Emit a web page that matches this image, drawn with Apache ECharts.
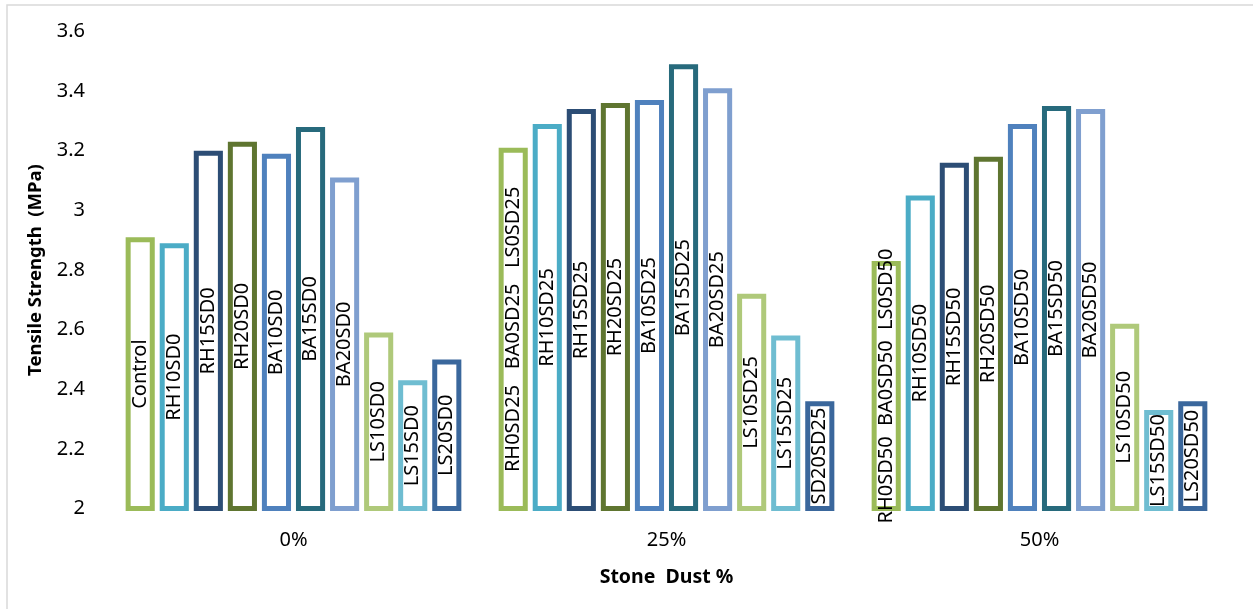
<!DOCTYPE html>
<html>
<head>
<meta charset="utf-8">
<title>Tensile Strength vs Stone Dust %</title>
<script src="https://cdn.jsdelivr.net/npm/echarts@6/dist/echarts.min.js"></script>
<style>
  html, body { margin: 0; padding: 0; background: #ffffff; }
  #chart { width: 1253px; height: 609px; }
</style>
</head>
<body>
<div id="chart"></div>
<script>
// Stone dust replacement levels (x categories)
const categories = ['0%', '25%', '50%'];

// Mix names shown inside each bar, one list per stone dust level
const names0  = ['Control', 'RH10SD0', 'RH15SD0', 'RH20SD0', 'BA10SD0', 'BA15SD0', 'BA20SD0', 'LS10SD0', 'LS15SD0', 'LS20SD0'];
const names25 = ['RH0SD25   BA0SD25   LS0SD25', 'RH10SD25', 'RH15SD25', 'RH20SD25', 'BA10SD25', 'BA15SD25', 'BA20SD25', 'LS10SD25', 'LS15SD25', 'SD20SD25'];
const names50 = ['RH0SD50  BA0SD50  LS0SD50', 'RH10SD50', 'RH15SD50', 'RH20SD50', 'BA10SD50', 'BA15SD50', 'BA20SD50', 'LS10SD50', 'LS15SD50', 'LS20SD50'];

// Tensile strength (MPa) per mix
const values0  = [2.91, 2.89, 3.20, 3.23, 3.19, 3.28, 3.11, 2.59, 2.43, 2.50];
const values25 = [3.21, 3.29, 3.34, 3.36, 3.37, 3.49, 3.41, 2.72, 2.58, 2.36];
const values50 = [2.83, 3.05, 3.16, 3.18, 3.29, 3.35, 3.34, 2.62, 2.33, 2.36];

// Y axis range
const yMin = 2, yMax = 3.6, yStep = 0.2;

// Outline colour for each bar slot
const colors = ['#9BBB59', '#4BACC6', '#2C4D75', '#5F7530', '#4F81BD', '#276A7C', '#7F9FCF', '#AFC97A', '#6FBDD1', '#3A679C'];

const namesByCat = [names0, names25, names50];
const valuesByCat = [values0, values25, values50];

const FONT = '"Noto Sans", "Open Sans", sans-serif';

const series = colors.map(function (c, i) {
  return {
    type: 'bar',
    name: 'slot' + i,
    data: valuesByCat.map(function (vals) { return vals[i]; }),
    itemStyle: { color: '#ffffff', borderColor: c, borderWidth: 5 },
    barGap: '17%',
    barCategoryGap: '10%',
    label: {
      show: true,
      position: 'inside',
      rotate: 90,
      color: '#000000',
      fontFamily: FONT,
      fontSize: 20,
      formatter: function (p) { return namesByCat[p.dataIndex][i]; }
    },
    silent: true
  };
});

const chart = echarts.init(document.getElementById('chart'), null, { renderer: 'canvas' });
chart.setOption({
  animation: false,
  backgroundColor: '#ffffff',
  grid: { left: 107, right: 27, top: 31.5, bottom: 100.5, containLabel: false },
  xAxis: {
    type: 'category',
    data: categories,
    axisLine: { show: false },
    axisTick: { show: false },
    axisLabel: { color: '#000000', fontFamily: FONT, fontSize: 20, margin: 22 },
    name: 'Stone  Dust %',
    nameLocation: 'middle',
    nameGap: 59,
    nameTextStyle: { color: '#000000', fontFamily: FONT, fontSize: 19.5, fontWeight: 'bold' }
  },
  yAxis: {
    type: 'value',
    min: yMin,
    max: yMax,
    interval: yStep,
    axisLine: { show: false },
    axisTick: { show: false },
    splitLine: { show: false },
    axisLabel: {
      color: '#000000', fontFamily: FONT, fontSize: 20, margin: 22,
      formatter: function (v) { return String(Math.round(v * 10) / 10); }
    },
    name: 'Tensile Strength  (MPa)',
    nameLocation: 'middle',
    nameRotate: 90,
    nameGap: 62,
    nameTextStyle: { color: '#000000', fontFamily: FONT, fontSize: 18.5, fontWeight: 'bold' }
  },
  graphic: [{
    type: 'rect',
    silent: true,
    shape: { x: 7, y: 5, width: 1400, height: 800 },
    style: { fill: 'none', stroke: '#d9d9d9', lineWidth: 1.5 }
  }],
  series: series
});
</script>
</body>
</html>
